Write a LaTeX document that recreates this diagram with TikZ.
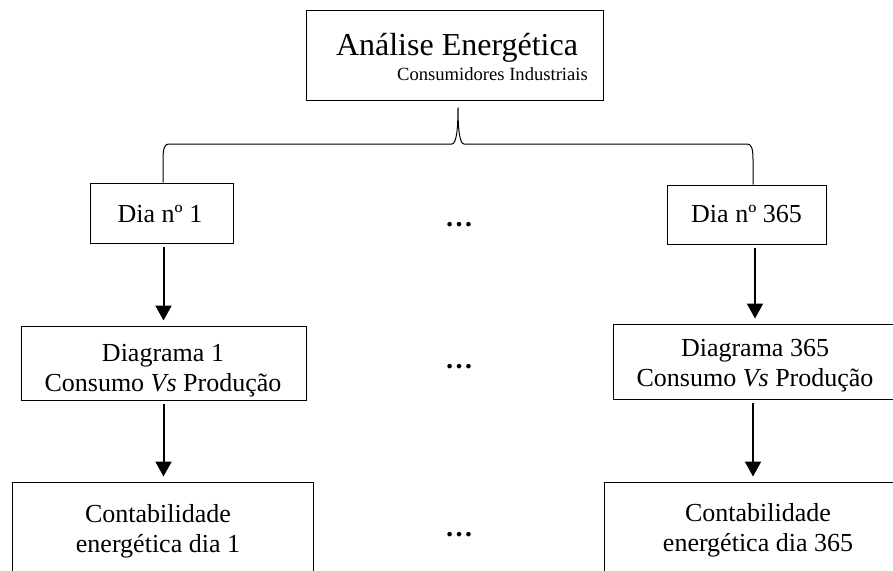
\documentclass[tikz,border=0pt]{standalone}
\usepackage{fontspec}
\setmainfont{Liberation Serif}
\usetikzlibrary{arrows.meta}
\begin{document}
\begin{tikzpicture}[x=1pt,y=-1pt,
  box/.style={draw, line width=1pt, inner sep=0pt},
  txt/.style={align=center, font=\fontsize{26}{30}\selectfont, inner sep=0pt},
  dots/.style={font=\fontsize{28}{30}\selectfont\bfseries, inner sep=0pt},
  arr/.style={line width=2pt, -{Triangle[width=16pt,length=15pt]}, shorten <=3pt, shorten >=5pt},
  brace/.style={line width=1pt}]
\useasboundingbox (0,0) rectangle (893,570);
\clip (0,0) rectangle (893,570);
% boxes
\node[box, minimum width=297pt, minimum height=90pt] (top) at (454.5,55) {};
\node[box, minimum width=143pt, minimum height=60pt] (dia1) at (161.5,213) {};
\node[box, minimum width=159pt, minimum height=59pt] (dia365) at (746.5,214.5) {};
\node[box, minimum width=285pt, minimum height=74pt] (diag1) at (163.5,363) {};
\node[box, minimum width=300pt, minimum height=75pt] (diag365) at (763,361.5) {};
\node[box, minimum width=301pt, minimum height=116pt] (cont1) at (162.5,540) {};
\node[box, minimum width=320pt, minimum height=116pt] (cont365) at (764,540) {};
% texts
\node[font=\fontsize{32}{36}\selectfont, anchor=base, inner sep=0pt] (title) at (457,55) {Análise Energética};
\node[font=\fontsize{18.6}{22}\selectfont, anchor=base east, inner sep=0pt] (sub) at (588,80) {Consumidores Industriais};
\node[txt] (dia1t) at (160,214) {Dia nº 1};
\node[txt] (dia365t) at (746.5,214) {Dia nº 365};
\node[txt] (diag1t) at (163,371) {Diagrama 1\\Consumo \textit{Vs} Produção};
\node[txt] (diag365t) at (755,366) {Diagrama 365\\Consumo \textit{Vs} Produção};
\node[txt] (cont1t) at (158,531) {Contabilidade\\energética dia 1};
\node[txt] (cont365t) at (758,530) {Contabilidade\\energética dia 365};
\node[dots] (d1) at (459,225) {…};
\node[dots] (d2) at (459,367) {…};
\node[dots] (d3) at (459,535) {…};
% brace
\coordinate (bl) at ([xshift=1.5pt]dia1.north);
\coordinate (br) at ([xshift=6.5pt]dia365.north);
\coordinate (bc) at ([xshift=3.5pt,yshift=-7pt]top.south);
\draw[brace] (bl) -- (163,160) .. controls (163,147) and (165,144) .. (169,144)
  -- (452,144) .. controls (456,143.5) and (458,132) .. (bc)
  .. controls (458,132) and (460,143.5) .. (464,144)
  -- (747,144) .. controls (751,144) and (753,147) .. (753,160) -- (br);
% arrows
\draw[arr] (diag1.north |- dia1.south) -- (diag1.north);
\draw[arr] (diag1.south) -- (diag1.south |- cont1.north);
\draw[arr] (diag365t.north |- dia365.south) -- (diag365t.north |- diag365.north);
\draw[arr] ([xshift=-2pt]diag365t.south |- diag365.south) -- ([xshift=-2pt]diag365t.south |- cont365.north);
\end{tikzpicture}
\end{document}
